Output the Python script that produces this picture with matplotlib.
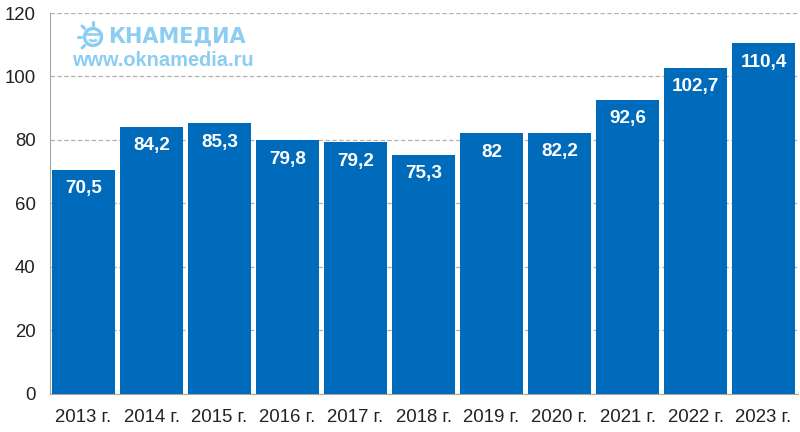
import matplotlib
matplotlib.use('Agg')
import matplotlib.pyplot as plt
from matplotlib.patches import Circle, Arc
import numpy as np

years = ["2013 г.", "2014 г.", "2015 г.", "2016 г.", "2017 г.", "2018 г.",
         "2019 г.", "2020 г.", "2021 г.", "2022 г.", "2023 г."]
values = [70.5, 84.2, 85.3, 79.8, 79.2, 75.3, 82, 82.2, 92.6, 102.7, 110.4]
value_labels = ["70,5", "84,2", "85,3", "79,8", "79,2", "75,3", "82", "82,2", "92,6", "102,7", "110,4"]
yticks = [0, 20, 40, 60, 80, 100, 120]

W, H = 800, 432
BLUE = "#006bba"
LOGO = "#8ccdf3"
plt.rcParams['font.family'] = ['Liberation Sans', 'DejaVu Sans']

fig = plt.figure(figsize=(W / 100, H / 100), dpi=100)
ax = fig.add_axes([49.5 / W, 1 - 393.5 / H, 748 / W, 380.5 / H])

x = np.arange(len(years))
ax.bar(x, values, width=0.925, color=BLUE, zorder=3)
for xi, v, lab in zip(x, values, value_labels):
    ax.annotate(lab, (xi, v), xytext=(0, -19), textcoords="offset pixels",
                ha="center", va="center", color="white", fontsize=13.6, fontweight="bold", zorder=4)

ax.set_xlim(-0.5, len(years) - 0.5)
ax.set_ylim(0, 120)
ax.set_xticks(x, years)
ax.set_yticks(yticks)
ax.tick_params(axis="both", length=0, labelsize=13.4, labelcolor="#222222")
ax.tick_params(axis="x", pad=11)
ax.tick_params(axis="y", pad=10)
ax.grid(axis="y", color="#b0b0b0", linestyle=(0, (3.5, 2)), linewidth=0.9, zorder=1)
for s in ["top", "right"]:
    ax.spines[s].set_visible(False)
ax.spines["left"].set_color("#a6a6a6")
ax.spines["bottom"].set_color("#a6a6a6")

# watermark, drawn in picture pixels on a full-figure overlay
logo_ax = fig.add_axes([0, 0, 1, 1], zorder=6)
logo_ax.set_xlim(0, W)
logo_ax.set_ylim(H, 0)
logo_ax.axis("off")
logo_ax.text(108, 37, "КНАМЕДИА", color=LOGO, fontsize=15, fontweight="bold",
             family="DejaVu Sans", ha="left", va="center")
logo_ax.text(72, 60, "www.oknamedia.ru", color=LOGO, fontsize=14.4, fontweight="bold",
             ha="left", va="center")
cx, cy = 93, 37
logo_ax.add_patch(Circle((cx, cy), 8.5, fill=False, ec=LOGO, lw=2.4))
logo_ax.plot([cx - 8, cx + 8], [cy - 3, cy - 3], color=LOGO, lw=1.8)
logo_ax.add_patch(Arc((cx, cy + 1), 8, 6, theta1=20, theta2=160, ec=LOGO, lw=1.8))
for a in [90, 135, 180, 225]:
    t = np.deg2rad(a)
    logo_ax.plot([cx + 12 * np.cos(t), cx + 15.5 * np.cos(t)],
                 [cy - 12 * np.sin(t), cy - 15.5 * np.sin(t)],
                 color=LOGO, lw=2.2, solid_capstyle="round")

fig.savefig("out.png", dpi=100)
